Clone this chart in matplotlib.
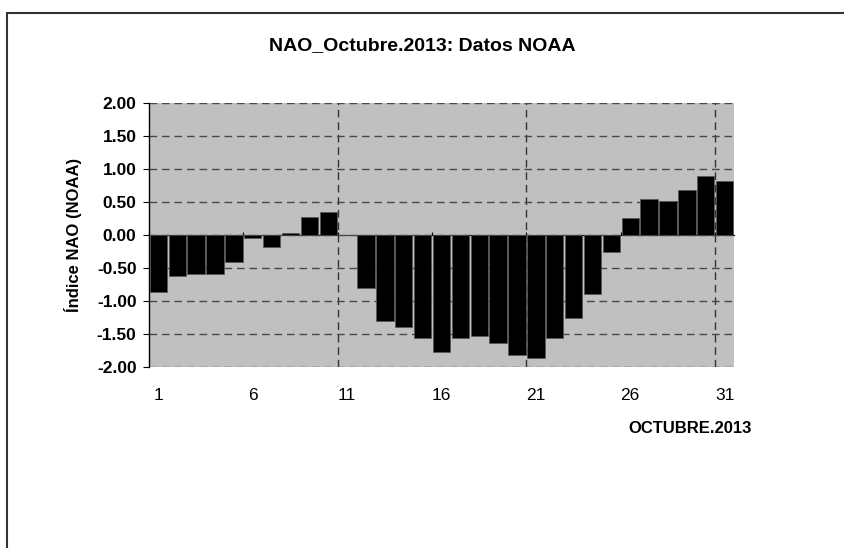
import numpy as np
import matplotlib; matplotlib.use("Agg")
import matplotlib.pyplot as plt
from matplotlib.patches import Rectangle

# NAO daily index, October 2013 (NOAA)
days = np.arange(1, 32)
nao = [-0.87, -0.62, -0.59, -0.59, -0.41, -0.04, -0.18, 0.03, 0.28, 0.35,
       0.00, -0.80, -1.31, -1.40, -1.56, -1.77, -1.56, -1.53, -1.63, -1.82,
       -1.86, -1.56, -1.26, -0.89, -0.25, 0.26, 0.54, 0.51, 0.68, 0.90, 0.82]
xlabels = [1, 6, 11, 16, 21, 26, 31]
yticks = np.arange(-2.0, 2.01, 0.5)

INK = "#000000"; GRID = "#484848"; BG = "#c0c0c0"
plt.rcParams.update({"font.family": ["Liberation Sans", "DejaVu Sans"], "text.color": INK})

fig = plt.figure(figsize=(8.44, 5.48), dpi=100)
W, H = 844, 548
ax = fig.add_axes([149/W, 1-367/H, (734-149)/W, (367-103)/H])
ax.set_facecolor(BG)
ax.bar(days, nao, width=0.92, color="black", edgecolor="#555555", linewidth=0.5, zorder=3)
ax.set_xlim(0.5, 31.5); ax.set_ylim(-2, 2)
ax.set_axisbelow(True)

# y axis
ax.set_yticks(yticks)
ax.set_yticklabels([f"{v:.2f}" for v in yticks], fontweight="bold", fontsize=12.5)
ax.tick_params(axis="y", direction="out", length=4.5, width=0.8, pad=4.5, color=INK)
ax.yaxis.grid(True, color=GRID, lw=1.0, ls=(0, (5.5, 3.5)))

# x axis: labels at the bottom, gridlines every 10 days
ax.set_xticks(xlabels)
ax.set_xticklabels([str(d) for d in xlabels], fontsize=12.5)
ax.tick_params(axis="x", length=0, pad=15)
ax.set_xticks([10.5, 20.5, 30.5], minor=True)
ax.tick_params(axis="x", which="minor", length=0)
ax.xaxis.grid(True, which="minor", color="#333333", lw=1.0, ls=(0, (5.5, 3.5)))

for s in ("top", "right", "bottom"):
    ax.spines[s].set_visible(False)
ax.spines["left"].set_color(INK); ax.spines["left"].set_linewidth(1.0)

# category axis crossing at zero, with ticks every 5 days
sec = ax.secondary_xaxis(0.5)
sec.set_xticks(np.arange(0.5, 31.6, 5))
sec.set_xticklabels([])
sec.tick_params(direction="out", length=2.5, width=0.8, color=INK)
sec.spines["bottom"].set_color(INK); sec.spines["bottom"].set_linewidth(1.0)
sec.spines["bottom"].set_zorder(4)

fig.text(0.5, 1-50/H, "NAO_Octubre.2013: Datos NOAA", ha="center", va="baseline",
         fontsize=14, fontweight="bold")
fig.text(73/W, 1-235/H, "Índice NAO (NOAA)", rotation=90, ha="center", va="center",
         fontsize=12, fontweight="bold")
fig.text(690/W, 1-433/H, "OCTUBRE.2013", ha="center", va="baseline",
         fontsize=12, fontweight="bold")

# chart area border (runs off the right and bottom edges)
fig.patches.append(Rectangle((7/W, -0.1), 1.1, 1.1-13/H, transform=fig.transFigure,
                             fill=False, edgecolor="#333333", lw=1.5))

fig.savefig("out.png", dpi=100)
